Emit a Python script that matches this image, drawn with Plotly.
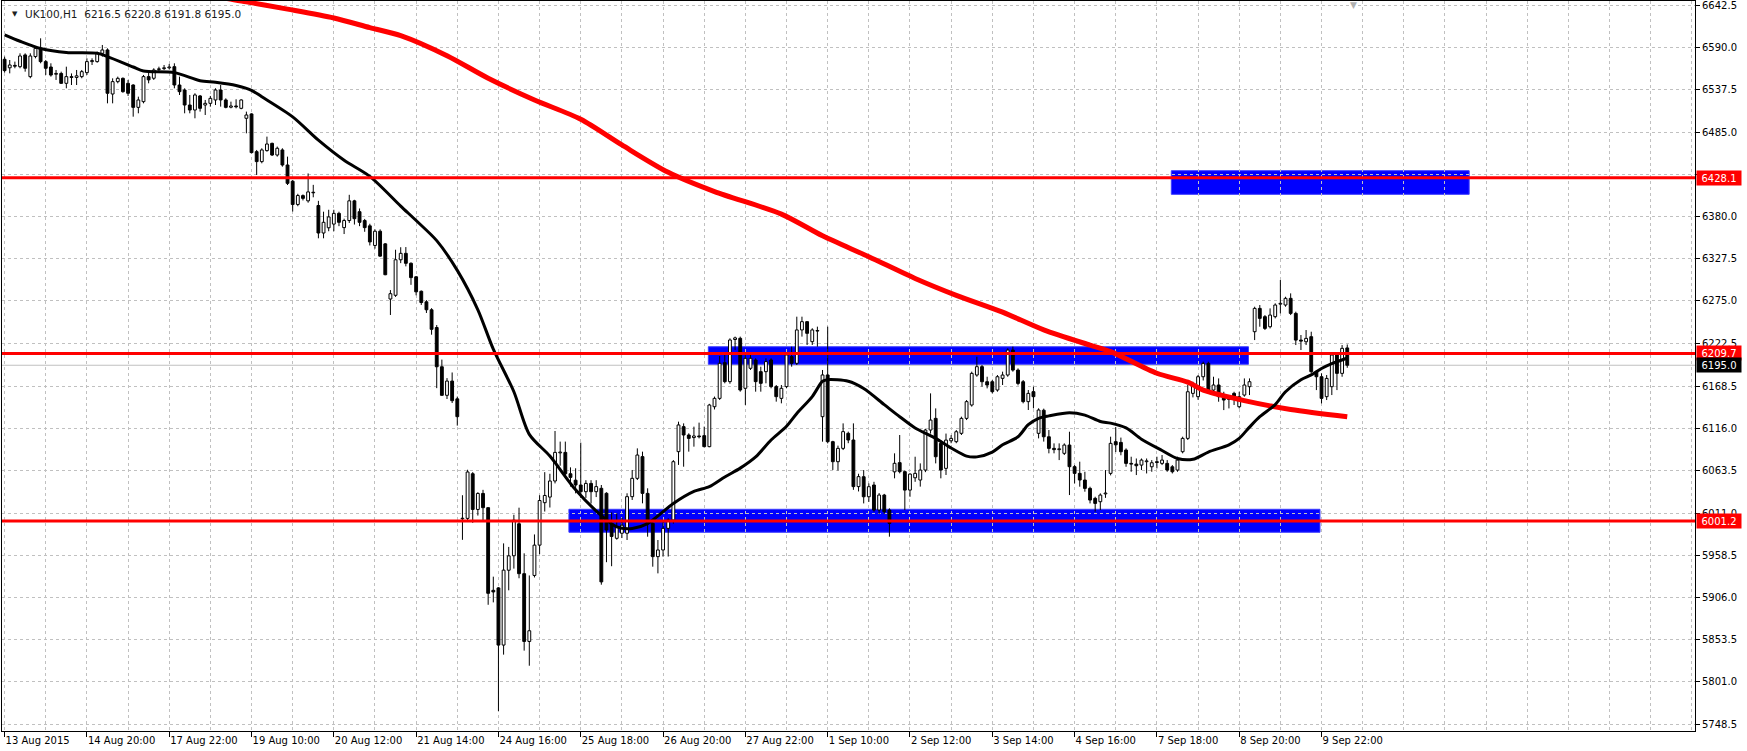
import plotly.graph_objects as go

# ---------------- data (UK100, H1) ----------------
opens = [
6575.6,6565.0,6568.0,6566.4,6581.0,6554.0,6579.0,6589.2,6572.7,6566.0,
6557.0,6558.0,6545.7,6554.0,6553.0,6554.0,6559.0,6572.7,6572.7,6583.0,
6587.2,6532.4,6547.8,6551.9,6545.7,6543.6,6515.8,6522.9,6554.0,6552.0,
6563.0,6564.0,6565.0,6566.4,6543.6,6537.4,6518.7,6512.5,6530.0,6518.7,
6520.8,6525.0,6537.4,6525.0,6516.0,6517.5,6514.6,6502.2,6507.6,6460.7,
6448.3,6462.0,6471.0,6456.5,6462.8,6444.1,6423.9,6395.0,6406.0,6399.5,
6410.0,6393.7,6359.5,6366.0,6370.6,6383.9,6366.2,6375.0,6399.5,6386.0,
6375.0,6368.4,6344.0,6361.7,6346.0,6277.4,6282.0,6326.2,6334.2,6321.8,
6305.0,6287.0,6273.9,6264.0,6241.9,6193.1,6157.6,6175.3,6153.2,6004.0,
6004.5,6060.0,6015.6,6035.5,6017.8,5915.0,5918.0,5846.9,5940.0,5958.0,
5997.8,5935.7,5851.4,5933.5,5971.2,6024.0,6031.0,6051.0,6086.0,6086.6,
6060.0,6052.0,6046.0,6037.7,6048.0,6037.7,6041.9,6035.7,5998.0,5979.7,
5986.0,5986.0,6031.5,6054.3,6081.3,6035.6,5998.3,5956.9,5965.2,5992.1,
6002.5,6087.5,6118.6,6108.2,6105.0,6107.0,6107.4,6093.7,6143.4,6153.8,
6198.2,6174.6,6227.0,6228.5,6166.3,6191.2,6201.5,6187.0,6187.0,6201.5,
6168.4,6153.8,6168.4,6205.7,6197.4,6238.9,6249.2,6224.3,6238.0,6131.0,
6182.9,6099.9,6075.0,6091.6,6110.3,6102.0,6044.0,6056.3,6031.4,6046.0,
6014.9,6033.5,6014.9,6062.4,6073.8,6062.6,6039.7,6055.0,6052.2,6064.6,
6114.4,6128.9,6097.8,6066.7,6101.0,6099.9,6110.3,6128.9,6145.5,6182.8,
6193.2,6174.5,6174.5,6164.2,6178.7,6182.8,6213.9,6189.0,6174.5,6149.7,
6162.1,6110.3,6139.0,6106.0,6091.6,6090.0,6085.4,6095.7,6068.8,6060.5,
6052.2,6041.8,6029.4,6025.2,6035.0,6060.5,6099.9,6099.0,6089.5,6072.9,
6072.0,6070.8,6075.0,6068.7,6075.0,6072.9,6072.9,6068.7,6064.6,6087.4,
6104.0,6160.0,6155.9,6180.7,6197.3,6164.1,6170.4,6157.9,6153.8,6160.0,
6143.4,6157.9,6168.3,6236.7,6265.7,6255.4,6242.9,6255.4,6271.0,6269.9,
6278.2,6259.5,6226.3,6224.2,6230.5,6187.0,6180.7,6155.9,6168.3,6207.7,
6184.9,6216.5]
highs = [
6578.9,6574.7,6572.7,6583.0,6583.0,6583.0,6591.3,6601.7,6574.7,6570.6,
6562.3,6560.2,6566.4,6558.0,6562.3,6562.3,6576.8,6576.8,6585.1,6593.4,
6589.2,6551.9,6554.0,6553.0,6549.9,6544.5,6529.1,6556.1,6562.3,6564.4,
6566.4,6568.5,6569.8,6570.6,6554.0,6539.5,6531.2,6533.3,6531.2,6525.0,
6530.0,6539.5,6543.6,6527.0,6522.9,6525.8,6525.8,6510.5,6508.4,6462.8,
6464.9,6479.4,6471.9,6467.0,6464.9,6454.5,6425.4,6408.3,6407.5,6433.6,
6419.4,6399.5,6386.0,6388.4,6388.4,6386.0,6377.3,6407.0,6400.8,6390.0,
6377.0,6371.0,6364.0,6364.0,6347.0,6288.5,6338.7,6341.8,6342.0,6323.0,
6306.0,6288.0,6276.0,6266.0,6245.0,6202.0,6179.0,6186.0,6156.0,6033.3,
6065.0,6062.0,6037.0,6040.0,6018.0,5932.0,5919.0,5973.4,5969.0,6009.0,
6017.8,5961.0,5933.5,5984.5,6033.3,6062.0,6060.0,6113.2,6100.0,6100.0,
6068.0,6066.8,6098.7,6052.0,6052.0,6052.0,6046.0,6037.0,6012.0,6010.8,
6005.0,6035.7,6064.7,6091.6,6087.5,6041.9,6002.5,5977.6,6000.4,6004.5,
6077.0,6124.8,6122.7,6110.3,6118.6,6123.6,6118.6,6147.0,6156.0,6206.5,
6207.8,6228.5,6230.6,6230.6,6209.8,6209.8,6203.6,6193.2,6203.6,6203.6,
6170.4,6170.4,6209.8,6218.1,6255.4,6255.4,6249.5,6241.0,6243.0,6189.1,
6243.0,6101.0,6095.0,6122.7,6112.4,6122.7,6060.0,6064.6,6048.0,6050.0,
6036.0,6035.0,6017.0,6085.4,6108.2,6064.0,6060.5,6081.2,6072.9,6116.0,
6160.0,6141.3,6101.9,6110.0,6108.0,6114.4,6131.0,6151.7,6187.0,6205.6,
6195.3,6180.7,6176.6,6182.8,6187.0,6216.0,6218.1,6191.1,6176.6,6164.2,
6168.3,6141.4,6141.0,6114.4,6097.8,6097.8,6097.8,6112.3,6070.8,6075.0,
6062.5,6043.9,6031.4,6035.6,6064.6,6106.1,6118.0,6105.0,6091.6,6081.2,
6079.0,6079.0,6079.0,6077.0,6081.2,6083.3,6077.0,6070.8,6081.2,6106.1,
6170.4,6174.5,6182.8,6199.4,6199.4,6180.7,6178.6,6162.0,6157.9,6162.0,
6162.0,6178.6,6178.6,6267.8,6269.9,6257.4,6265.7,6272.0,6301.0,6280.2,
6284.4,6261.6,6232.6,6238.8,6236.7,6189.0,6184.9,6182.8,6209.7,6209.7,
6220.1,6220.8]
lows = [
6559.0,6558.1,6564.4,6564.4,6560.2,6552.0,6576.8,6570.6,6556.1,6554.0,
6549.9,6545.0,6539.5,6543.6,6543.6,6552.0,6556.0,6568.5,6571.4,6578.9,
6520.8,6520.8,6545.7,6534.0,6530.0,6504.2,6508.4,6520.8,6545.7,6549.9,
6560.2,6562.3,6563.1,6539.5,6531.2,6508.4,6508.4,6502.2,6510.5,6506.3,
6516.7,6518.7,6516.7,6514.6,6514.6,6514.6,6513.4,6483.5,6458.6,6431.7,
6446.2,6460.7,6455.3,6454.5,6442.0,6419.2,6386.2,6392.8,6400.0,6397.2,
6403.9,6352.9,6352.9,6361.7,6361.7,6368.0,6358.2,6372.0,6370.0,6368.0,
6361.0,6344.0,6340.0,6330.0,6307.0,6257.5,6280.0,6322.0,6318.0,6295.0,
6282.0,6270.0,6260.0,6233.0,6166.5,6157.0,6153.0,6148.0,6119.9,5977.8,
6000.0,5999.0,6008.0,6000.0,5897.0,5900.0,5764.8,5835.0,5915.0,5942.0,
5930.0,5840.0,5821.2,5931.0,5960.0,6013.0,6018.0,6048.0,6070.0,6055.0,
6044.0,6035.6,6030.0,6030.0,6023.0,6031.0,5922.0,5950.0,5945.0,5978.0,
5980.0,5977.6,6027.4,6052.2,6023.2,5981.7,5944.4,5936.1,5956.9,5957.0,
5998.0,6071.0,6068.8,6087.5,6093.7,6104.0,6093.0,6093.0,6140.0,6151.8,
6172.5,6172.0,6214.0,6162.1,6145.6,6189.1,6162.1,6162.1,6172.5,6166.3,
6149.7,6147.6,6166.3,6193.2,6195.3,6230.6,6220.2,6220.2,6218.1,6099.9,
6097.8,6064.7,6064.0,6089.5,6098.0,6040.0,6038.0,6023.1,6025.0,6012.8,
6010.0,6010.0,5981.7,6054.3,6060.5,6014.9,6031.4,6050.0,6044.0,6062.0,
6110.0,6072.9,6054.3,6058.5,6098.0,6098.0,6108.2,6126.8,6143.5,6180.7,
6168.3,6166.2,6160.0,6162.1,6170.4,6180.7,6187.0,6170.0,6147.6,6139.3,
6141.4,6104.0,6100.0,6085.4,6085.4,6077.0,6083.3,6033.5,6048.0,6043.9,
6037.7,6023.1,6012.8,6014.9,6030.0,6058.0,6087.0,6083.0,6068.7,6062.5,
6058.4,6064.6,6060.4,6062.5,6066.7,6070.8,6062.5,6060.4,6062.5,6085.4,
6102.0,6155.0,6152.0,6176.0,6162.0,6160.0,6149.6,6139.2,6141.3,6145.5,
6141.3,6155.9,6157.9,6226.3,6242.9,6238.8,6240.8,6253.3,6259.5,6267.8,
6257.4,6220.1,6213.9,6220.1,6184.9,6164.1,6147.5,6151.7,6157.9,6164.1,
6180.7,6191.8]
closes = [
6561.5,6568.5,6567.0,6579.7,6564.4,6579.7,6589.2,6572.7,6564.4,6556.0,
6558.0,6545.7,6554.0,6553.0,6555.0,6560.2,6572.7,6574.0,6583.0,6587.2,
6533.3,6547.8,6551.9,6535.3,6533.3,6515.8,6525.0,6554.0,6550.0,6562.3,
6563.5,6565.0,6566.0,6543.6,6535.3,6518.7,6512.5,6531.2,6514.6,6520.8,
6527.0,6537.4,6525.0,6515.8,6517.5,6516.5,6525.0,6506.3,6459.5,6448.3,
6462.8,6470.2,6456.5,6464.9,6444.1,6421.3,6395.0,6406.1,6402.6,6410.6,
6409.5,6359.5,6372.8,6379.5,6383.9,6372.8,6375.0,6399.5,6377.3,6372.8,
6366.2,6348.4,6361.7,6330.7,6307.6,6284.0,6326.2,6334.2,6321.8,6304.0,
6286.3,6273.0,6264.0,6239.7,6193.1,6157.6,6175.3,6150.9,6131.0,6004.5,
6062.2,6015.6,6035.5,6017.8,5911.3,5913.0,5846.9,5940.1,5957.9,6002.3,
5935.7,5851.4,5864.7,5971.2,6026.7,6033.0,6051.0,6086.6,6087.0,6060.0,
6055.5,6046.0,6037.7,6048.0,6037.7,6044.0,5925.5,5990.0,5982.0,5994.0,
5996.0,6031.5,6054.3,6083.3,6035.6,5998.3,5956.9,5965.2,5992.1,6002.5,
6075.0,6120.7,6108.2,6104.0,6107.0,6106.0,6093.7,6145.5,6153.8,6197.4,
6174.6,6226.4,6229.0,6164.2,6203.6,6203.6,6174.6,6172.5,6199.5,6168.4,
6155.9,6166.3,6207.8,6197.4,6238.9,6249.2,6234.7,6238.9,6237.5,6182.9,
6099.9,6075.0,6091.6,6112.4,6102.0,6044.0,6056.4,6031.4,6043.9,6014.9,
6033.5,6012.8,5998.3,6073.0,6062.6,6039.7,6059.6,6060.5,6064.6,6114.4,
6126.8,6081.2,6064.6,6101.9,6104.0,6112.3,6128.9,6149.7,6184.9,6193.2,
6174.5,6170.4,6162.1,6180.7,6182.8,6213.9,6189.0,6172.4,6149.7,6160.0,
6155.9,6139.3,6106.0,6091.6,6090.0,6091.0,6095.7,6068.8,6060.5,6052.2,
6041.8,6027.3,6023.1,6033.5,6036.0,6097.8,6096.0,6087.4,6072.9,6072.0,
6070.0,6077.0,6076.0,6073.7,6074.0,6077.0,6064.6,6062.5,6077.0,6104.0,
6162.0,6172.4,6180.7,6197.3,6164.1,6170.4,6155.9,6151.7,6152.5,6153.0,
6155.9,6170.4,6174.5,6265.7,6253.3,6240.8,6257.4,6269.9,6272.0,6278.2,
6259.5,6226.3,6225.0,6228.4,6187.0,6180.7,6153.8,6178.6,6207.7,6184.9,
6216.0,6195.0]

# moving averages, read at selected bars
fast_ma_bar = [0,3,7,12,18,20,25,27,33,38,41,45,48,50,56,61,66,71,77,80,
               84,88,92,95,99,102,106,111,116,119,122,125,130,134,137,140,143,146,149,152,
               154,157,159,160,164,167,171,174,177,181,184,187,189,192,194,197,199,201,203,207,
               210,213,215,218,221,225,228,231,234,238,240,242,244,247,249,252,254,256,258,261]
fast_ma_val = [6606,6598,6589,6584,6583,6579,6566,6561,6559,6549,6547,6543,6537,6529,6504,6475,6450,6430,6393,6375,
               6350,6313,6264,6215,6162,6109,6082,6040,6008,5994,5992,5998,6023,6038,6044,6056,6067,6081,6102,6119,
               6135,6156,6175,6177,6175,6166,6146,6131,6117,6104,6092,6082,6081,6087,6096,6106,6121,6129,6132,6136,
               6133,6125,6123,6117,6103,6089,6079,6078,6087,6096,6104,6118,6131,6146,6162,6177,6183,6191,6197,6204]
slow_ma_bar = [0,20,35,47,55,64,71,77,86,94,103,112,120,129,138,151,159,168,177,185,194,202,211,215,224,230,233,241,250,261]
slow_ma_val = [6690,6672,6660,6647,6638,6627,6615,6605,6580,6552,6525,6501,6469,6435,6411,6383,6356,6330,6303,6282,
               6261,6239,6220,6212,6185,6174,6164,6151,6140,6131]

# horizontal levels and zones
level_prices = [6428.1, 6209.7, 6001.2]
bid_price = 6195.0
zone_bar_start = [226.8, 136.8, 109.7]
zone_bar_end = [284.7, 241.8, 255.7]
zone_low = [6407.6, 6196.2, 5987.2]
zone_high = [6437.0, 6218.0, 6015.8]

# axes
x_tick_bars = [0,16,32,48,64,80,96,112,128,144,160,176,192,208,224,240,256]
x_tick_labels = ["13 Aug 2015","14 Aug 20:00","17 Aug 22:00","19 Aug 10:00","20 Aug 12:00",
                 "21 Aug 14:00","24 Aug 16:00","25 Aug 18:00","26 Aug 20:00","27 Aug 22:00",
                 "1 Sep 10:00","2 Sep 12:00","3 Sep 14:00","4 Sep 16:00","7 Sep 18:00",
                 "8 Sep 20:00","9 Sep 22:00"]
y_tick_vals = [6642.5,6590.0,6537.5,6485.0,6432.5,6380.0,6327.5,6275.0,6222.5,
               6168.5,6116.0,6063.5,6011.0,5958.5,5906.0,5853.5,5801.0,5748.5]
# 6432.5 is hidden behind the 6428.1 level label in the original
y_tick_labels = ["6642.5","6590.0","6537.5","6485.0","","6380.0","6327.5","6275.0","6222.5",
                 "6168.5","6116.0","6063.5","6011.0","5958.5","5906.0","5853.5","5801.0","5748.5"]
title_text = "UK100,H1  6216.5 6220.8 6191.8 6195.0"

# ---------------- figure ----------------
n = len(opens)
bars = list(range(n))
body_lo = [min(o, c) for o, c in zip(opens, closes)]
body_hi = [max(o, c) for o, c in zip(opens, closes)]
body_len = [max(h - l, 0.7) for h, l in zip(body_hi, body_lo)]
body_col = ['#ffffff' if c >= o else '#000000' for o, c in zip(opens, closes)]

wx, wy = [], []
for i in bars:
    wx += [i, i, None, i, i, None]
    wy += [max(highs[i], body_hi[i]), body_hi[i], None, body_lo[i], min(lows[i], body_lo[i]), None]

fig = go.Figure()
fig.add_trace(go.Scatter(x=wx, y=wy, mode='lines', line=dict(color='black', width=1),
                         hoverinfo='skip', showlegend=False))
fig.add_trace(go.Bar(x=bars, y=body_len, base=body_lo, width=0.55,
                     marker=dict(color=body_col, line=dict(color='black', width=1)),
                     showlegend=False, hoverinfo='skip'))
fig.add_trace(go.Scatter(x=slow_ma_bar, y=slow_ma_val, mode='lines',
                         line=dict(color='#ff0000', width=5, shape='spline', smoothing=0.8),
                         showlegend=False, hoverinfo='skip'))
fig.add_trace(go.Scatter(x=fast_ma_bar, y=fast_ma_val, mode='lines',
                         line=dict(color='#000000', width=3, shape='spline', smoothing=0.8),
                         showlegend=False, hoverinfo='skip'))

shapes = []
for x0, x1, lo, hi in zip(zone_bar_start, zone_bar_end, zone_low, zone_high):
    shapes.append(dict(type='rect', xref='x', yref='y', x0=x0, x1=x1, y0=lo, y1=hi,
                       fillcolor='#0000ff', line=dict(color='#3c3cff', width=1), layer='below'))
shapes.append(dict(type='line', xref='paper', yref='y', x0=0, x1=1, y0=bid_price, y1=bid_price,
                   line=dict(color='#c0c0c0', width=1), layer='between'))
for p in level_prices:
    shapes.append(dict(type='line', xref='paper', yref='y', x0=0, x1=1, y0=p, y1=p,
                       line=dict(color='#ff0000', width=3), layer='above'))

annotations = []
for p in level_prices:
    annotations.append(dict(xref='paper', yref='y', x=1, y=p, xanchor='left', yanchor='middle',
                            xshift=1, text=f"{p:.1f}", showarrow=False, bgcolor='#ff0000',
                            width=42, height=12, align='center',
                            font=dict(family='DejaVu Sans', size=10, color='white'), borderpad=1))
annotations.append(dict(xref='paper', yref='y', x=1, y=bid_price, xanchor='left', yanchor='middle',
                        xshift=1, text=f"{bid_price:.1f}", showarrow=False, bgcolor='#000000',
                        width=42, height=12, align='center',
                        font=dict(family='DejaVu Sans', size=10, color='white'), borderpad=1))
annotations.append(dict(xref='paper', yref='paper', x=0, y=1, xanchor='left', yanchor='top',
                        xshift=8, yshift=-7, text="▼", showarrow=False,
                        font=dict(family='DejaVu Sans', size=7, color='#202020')))
annotations.append(dict(xref='paper', yref='paper', x=0, y=1, xanchor='left', yanchor='top',
                        xshift=21, yshift=-5, text=title_text, showarrow=False,
                        font=dict(family='DejaVu Sans', size=10.5, color='#1a1a1a')))
annotations.append(dict(xref='x', yref='paper', x=262.3, y=1, xanchor='center', yanchor='top',
                        yshift=3, text="▼", showarrow=False,
                        font=dict(family='DejaVu Sans', size=9, color='#b0b0b0')))

fig.update_layout(width=1747, height=751, margin=dict(l=2, r=52, t=1, b=20),
                  plot_bgcolor='white', paper_bgcolor='white', barmode='overlay', bargap=0,
                  showlegend=False, shapes=shapes, annotations=annotations,
                  font=dict(family='DejaVu Sans', size=10, color='black'))
fig.update_xaxes(range=[-0.505, 328.6], tickmode='array', tickvals=x_tick_bars, ticktext=x_tick_labels,
                 ticks='outside', ticklen=5, tickcolor='black', ticklabelposition='outside right',
                 showgrid=True, gridcolor='#c0c0c0', griddash='3px,3px', gridwidth=1,
                 minor=dict(tickmode='linear', tick0=0, dtick=8, showgrid=True, gridcolor='#c0c0c0',
                            griddash='3px,3px', ticks=''),
                 showline=True, linecolor='black', linewidth=1, mirror=True, zeroline=False)
fig.update_yaxes(range=[5740.0, 6648.1], side='right', tickmode='array', tickvals=y_tick_vals,
                 ticktext=y_tick_labels, ticks='outside', ticklen=4, tickcolor='black',
                 showgrid=True, gridcolor='#c0c0c0', griddash='3px,3px', gridwidth=1,
                 showline=True, linecolor='black', linewidth=1, mirror=True, zeroline=False)

fig.write_html("out.html", config={'displayModeBar': False, 'staticPlot': True},
               post_script="document.body.style.margin='0';document.body.style.overflow='hidden';")
